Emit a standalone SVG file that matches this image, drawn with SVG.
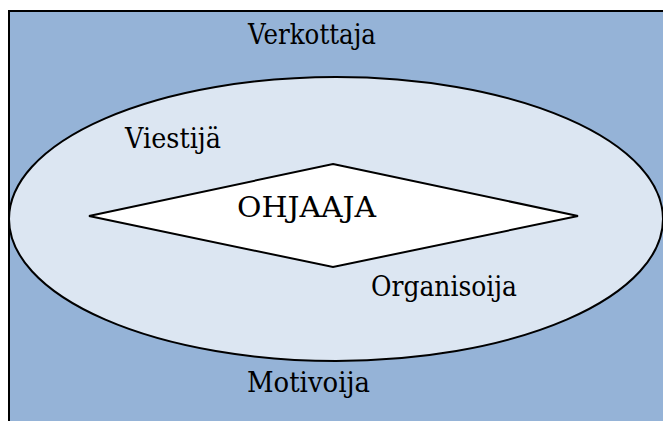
<svg xmlns="http://www.w3.org/2000/svg" width="663" height="421" viewBox="0 0 663 421">
<style>
.lbl{font-family:'DejaVu Serif',serif;font-size:28px;fill:#000}
.shape{stroke:#000;stroke-width:2}
</style>
<rect width="663" height="421" fill="#fff"/>
<g id="outer">
<rect class="shape" x="9" y="11" width="662" height="420" fill="#95b3d7"/>
<text class="lbl" x="248" y="44" textLength="128" lengthAdjust="spacingAndGlyphs">Verkottaja</text>
<text class="lbl" x="247" y="392" textLength="123" lengthAdjust="spacingAndGlyphs">Motivoija</text>
</g>
<g id="ellipse">
<ellipse class="shape" cx="336" cy="219" rx="327" ry="142" fill="#dce6f2"/>
<text class="lbl" x="125" y="148" textLength="96" lengthAdjust="spacingAndGlyphs">Viestijä</text>
<text class="lbl" x="371" y="296" textLength="146" lengthAdjust="spacingAndGlyphs">Organisoija</text>
</g>
<g id="diamond">
<polygon class="shape" points="333,164 578,216 333,267 89,216" fill="#fff" stroke-linejoin="miter"/>
<text class="lbl" x="237" y="217" textLength="139" lengthAdjust="spacingAndGlyphs">OHJAAJA</text>
</g>
<g id="connectors"/>
</svg>
